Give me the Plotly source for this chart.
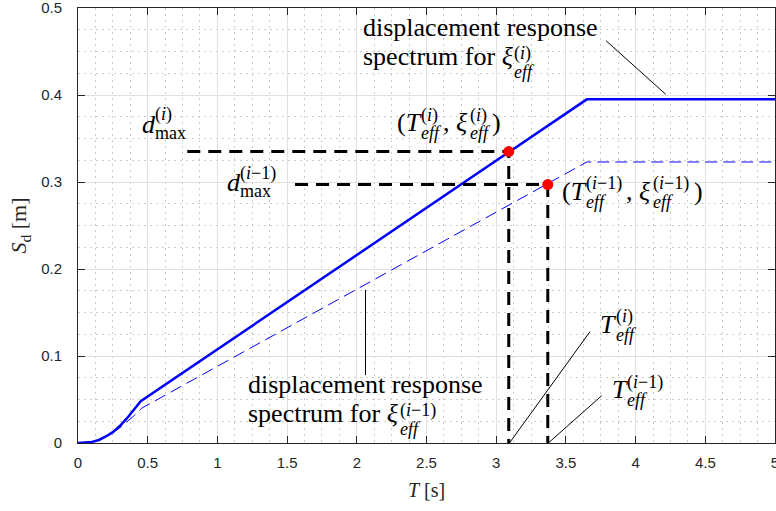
import re
import plotly.graph_objects as go

# Displacement response spectra (period T in s, spectral displacement Sd in m)
T_curr = [0.0, 0.05, 0.1, 0.15, 0.2, 0.25, 0.3, 0.35, 0.4, 0.45, 3.65, 5.0]
sd_curr = [0.0, 0.0003, 0.0012, 0.0035, 0.0075, 0.0125, 0.0195, 0.0282, 0.038, 0.048, 0.395, 0.395]
T_prev = [0.0, 0.05, 0.1, 0.15, 0.2, 0.25, 0.3, 0.35, 0.4, 0.457, 3.65, 5.0]
sd_prev = [0.0, 0.0003, 0.0012, 0.0035, 0.0072, 0.0118, 0.0175, 0.0238, 0.031, 0.040, 0.323, 0.323]

# Performance points: effective period and maximum displacement (iteration i, i-1)
T_eff = [3.09, 3.37]
d_max = [0.335, 0.297]
guide_start = [0.784, 1.557]

# Pointer lines for the text labels: (x0, y0, x1, y1)
leaders = [
    (3.788, 0.4624, 4.216, 0.4008),
    (2.0624, 0.176, 2.0624, 0.078),
    (3.095, 0.0, 3.673, 0.128),
    (3.374, 0.0, 3.757, 0.0544),
]

SERIF = "Liberation Serif, Times New Roman, serif"
SANS = "Liberation Sans, Arial, Helvetica, sans-serif"
AX = "#262626"
BASE = 26
SCRIPT = 18

# approximate advance widths (em) of the serif face, for laying out scripts
WIDTHS = {
    "(": 0.333, ")": 0.333, ",": 0.25, " ": 0.25, "1": 0.5, "−": 0.564,
    "m": 0.778, "a": 0.444, "x": 0.5, "T": 0.6, "d": 0.5, "e": 0.444,
    "f": 0.278, "i": 0.278, "ξ": 0.55, "s": 0.389, "p": 0.5, "c": 0.444,
    "t": 0.278, "r": 0.333, "u": 0.5, "o": 0.5, "n": 0.5, "l": 0.278,
}
SCRIPT_GAP = 4


def text_width(markup, size):
    plain = re.sub(r"<[^>]+>", "", markup)
    return sum(WIDTHS.get(ch, 0.5) for ch in plain) * size


fig = go.Figure()

fig.add_trace(go.Scatter(
    x=T_prev, y=sd_prev, mode="lines",
    line=dict(color="#0000ff", width=1, dash="12px,6px"), hoverinfo="skip"))
fig.add_trace(go.Scatter(
    x=T_curr, y=sd_curr, mode="lines",
    line=dict(color="#0000ff", width=2.5), hoverinfo="skip"))

for xs, t, d in zip(guide_start, T_eff, d_max):
    fig.add_trace(go.Scatter(
        x=[xs, t, t], y=[d, d, 0], mode="lines",
        line=dict(color="black", width=3, dash="13px,8px"), hoverinfo="skip"))

fig.add_trace(go.Scatter(
    x=T_eff, y=d_max, mode="markers",
    marker=dict(color="#ff0000", size=11, line=dict(width=0)), hoverinfo="skip"))

for x0, y0, x1, y1 in leaders:
    fig.add_shape(type="line", xref="x", yref="y", x0=x0, y0=y0, x1=x1, y1=y1,
                  line=dict(color="black", width=1))


def add_label(x, y, parts, up=10, down=8, size=BASE, script=SCRIPT):
    """Lay out base text and stacked sub/superscripts left to right.

    up/down: baseline raise of the superscript and drop of the subscript (px).
    """
    base_shift = 0.3375 * (size - script)
    off = 0.0
    for p in parts:
        if isinstance(p, str):
            fig.add_annotation(
                x=x, y=y, xref="x", yref="y", text=p, showarrow=False,
                xanchor="left", yanchor="middle", xshift=off,
                borderpad=0, borderwidth=0,
                font=dict(family=SERIF, size=size, color="black"))
            off += text_width(p, size)
        else:
            sub, sup = p
            for txt, dy in ((sub, -down - base_shift), (sup, up - base_shift)):
                fig.add_annotation(
                    x=x, y=y, xref="x", yref="y", text=txt, showarrow=False,
                    xanchor="left", yanchor="middle", xshift=off, yshift=dy,
                    borderpad=0, borderwidth=0,
                    font=dict(family=SERIF, size=script, color="black"))
            off += max(text_width(sub, script), text_width(sup, script)) + SCRIPT_GAP


SUP_I = "(<i>i</i>)"
SUP_I1 = "(<i>i</i>−1)"
EFF = "<i>eff</i>"

add_label(2.044, 0.4771, ["displacement response"])
add_label(2.044, 0.4446, ["spectrum for <i>ξ</i>", (EFF, SUP_I)], up=5, down=13)
add_label(1.22, 0.0676, ["displacement response"])
add_label(1.22, 0.0343, ["spectrum for <i>ξ</i>", (EFF, SUP_I1)], up=5, down=13)

add_label(0.459, 0.3664, ["<i>d</i>", ("max", SUP_I)], up=12, down=6)
add_label(1.067, 0.2991, ["<i>d</i>", ("max", SUP_I1)], up=12, down=6)

add_label(2.285, 0.3682, ["(<i>T</i>", (EFF, SUP_I), ", <i>ξ</i>", (EFF, SUP_I), ")"])
add_label(3.47, 0.2894, ["(<i>T</i>", (EFF, SUP_I1), ", <i>ξ</i>", (EFF, SUP_I1), ")"])

add_label(3.745, 0.1366, ["<i>T</i>", (EFF, SUP_I)])
add_label(3.828, 0.0615, ["<i>T</i>", (EFF, SUP_I1)])

axis_common = dict(
    showline=True, linecolor=AX, linewidth=1, mirror="ticks",
    ticks="inside", ticklen=7, tickcolor=AX, tickwidth=1,
    showgrid=True, gridcolor="#e0e0e0", gridwidth=1, zeroline=False,
    tickfont=dict(family=SANS, size=15, color=AX),
    ticklabeloverflow="allow", automargin=False,
)

fig.update_xaxes(
    range=[0, 5], tick0=0, dtick=0.5,
    minor=dict(dtick=0.125, showgrid=True, gridcolor="#cccccc",
               griddash="2px,4px", gridwidth=1),
    ticklabelstandoff=6,
    title=dict(text="<i>T</i> [s]", font=dict(family=SERIF, size=20, color=AX),
               standoff=12),
    **axis_common)
fig.update_yaxes(
    range=[0, 0.5], tick0=0, dtick=0.1,
    minor=dict(dtick=0.025, showgrid=True, gridcolor="#cccccc",
               griddash="2px,4px", gridwidth=1),
    ticklabelstandoff=12,
    title=dict(text="<i>S</i><sub>d</sub> [m]", font=dict(family=SERIF, size=22, color=AX),
               standoff=8),
    **axis_common)

fig.update_layout(
    width=776, height=511,
    margin=dict(l=78, r=1, t=8, b=68, autoexpand=False),
    paper_bgcolor="white", plot_bgcolor="white",
    showlegend=False,
)

fig.write_html("out.html", config={"displayModeBar": False})
